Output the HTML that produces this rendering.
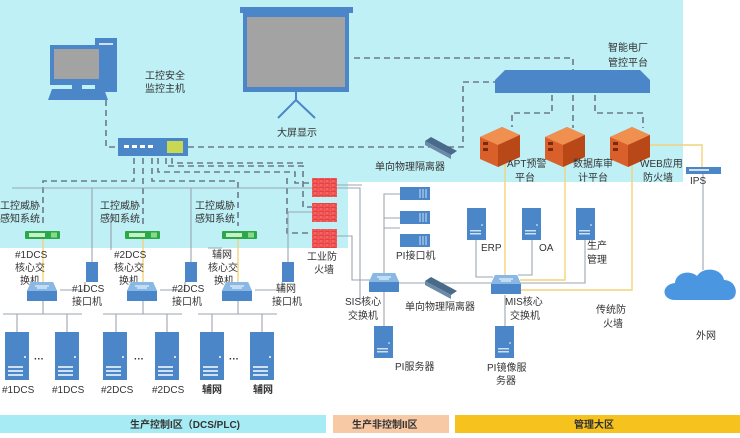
<!DOCTYPE html>
<html><head><meta charset="utf-8"><style>
body{margin:0;width:740px;height:438px;overflow:hidden;background:#fff}
svg{display:block}
text{font-family:"Liberation Sans","Noto Sans CJK SC",sans-serif;font-size:10px;fill:#333}
.d{stroke:#6a7a88;stroke-width:1.6;stroke-dasharray:6 4;fill:none}
.s{stroke:#9aa6b0;stroke-width:1.1;fill:none}
.y{stroke:#f2d27a;stroke-width:1.4;fill:none}
.b{fill:#4a86c8}
</style></head><body>
<svg width="740" height="438" viewBox="0 0 740 438">
<defs>
<pattern id="br" width="6" height="4" patternUnits="userSpaceOnUse"><rect width="6" height="4" fill="#e84040"/><path d="M0 0H6M0 2H6M3 0V2M0 2V4" stroke="#ff9090" stroke-width="0.6"/></pattern>
<g id="srv"><rect x="0" y="0" width="24" height="48" fill="#4a86c8"/><rect x="3" y="34" width="15" height="2" fill="#cfe0f2"/><rect x="3" y="38" width="15" height="2" fill="#cfe0f2"/><rect x="3" y="42" width="15" height="2" fill="#cfe0f2"/><circle cx="20" cy="25" r="1" fill="#fff"/></g>
<g id="tw"><rect x="0" y="0" width="19" height="32" fill="#4a86c8"/><rect x="3" y="22" width="11" height="1.5" fill="#cfe0f2"/><rect x="3" y="25" width="11" height="1.5" fill="#cfe0f2"/><circle cx="15" cy="17" r="0.8" fill="#fff"/></g>
<g id="sw"><path d="M4 0H26L30 9V19H0V9Z" fill="#4a86c8"/><path d="M4 0H26L30 9H0Z" fill="#8ab8e4"/><path d="M8 4H22M10 6H20" stroke="#fff" stroke-width="1"/></g>
<g id="grn"><rect x="0" y="0" width="35" height="8" rx="1" fill="#2aa84a"/><rect x="4" y="2" width="16" height="4" fill="#c8f0c8"/><rect x="26" y="1.5" width="6" height="5" fill="#8ad88a"/></g>
<g id="org"><path d="M0 10L22 0L40 8V30L18 40L0 32Z" fill="#d9602a"/><path d="M0 10L22 0L40 8L18 18Z" fill="#f09050"/><path d="M18 18V40L40 30V8Z" fill="#b84818"/><rect x="3" y="15" width="5" height="3" fill="#7a2a08"/><rect x="3" y="21" width="5" height="3" fill="#7a2a08"/></g>
<g id="rk"><rect width="30" height="13" fill="#4a86c8"/><path d="M20 2V11M23 2V11M26 2V11" stroke="#cfe0f2" stroke-width="1"/></g>
<g id="dio"><path d="M0 4L6 0L32 14L26 18Z" fill="#4a6a8a"/><path d="M0 4L26 18V22L0 8Z" fill="#6a8aa8"/></g>
</defs>
<path d="M0 0H683V182H348V248H0Z" fill="#bff0f6"/>
<rect x="0" y="415" width="326" height="18" fill="#a7ecf4"/>
<rect x="333" y="415" width="116" height="18" fill="#f7c9a4"/>
<rect x="455" y="415" width="285" height="18" fill="#f5c21e"/>
<text x="130" y="428" font-size="11" font-weight="bold">生产控制I区（DCS/PLC)</text>
<text x="352" y="428" font-size="11" font-weight="bold">生产非控制II区</text>
<text x="574" y="428" font-size="11" font-weight="bold">管理大区</text>

<path class="d" d="M354 58H573V72"/>
<path class="d" d="M188 147H463V82H500"/>
<path class="d" d="M106 100V147H118"/>
<path class="d" d="M552 95V113H512V127"/>
<path class="d" d="M573 95V128"/>
<path class="d" d="M595 95V113H643V128"/>
<path class="d" d="M134 158V181H43V225"/>
<path class="d" d="M143 158V226"/>
<path class="d" d="M152 158V181H238V226"/>
<path class="d" d="M158 158V172H295V183H312"/>
<path class="d" d="M166 158V166H303V207H312"/>
<path class="d" d="M172 158V163H304"/>
<path class="d" d="M287 178V233H312"/>
<path class="s" d="M12 188H360V300"/>
<path class="s" d="M92 188V262"/>
<path class="s" d="M191 188V262"/>
<path class="s" d="M111 215V250"/>
<path class="s" d="M208 248H222M111 248V215"/>
<path class="s" d="M288 212V262M288 212H313"/>
<path class="s" d="M337 185H362"/>
<path class="s" d="M337 236H352V280H370"/>
<path class="s" d="M398 283H493"/>
<path class="s" d="M384 283V228H400M384 252V194H400M384 218H400"/>
<path class="s" d="M384 292V326"/>
<path class="s" d="M476 240V277H493"/>
<path class="s" d="M532 240V275H518"/>
<path class="s" d="M585 240V283H520"/>
<path class="s" d="M505 295V326"/>
<path class="s" d="M703 174V270"/>
<g class="s">
<path d="M3 314H82M43 296V314M17 314V332M67 314V332M60 290H85V282"/>
<path d="M103 314H182M143 296V314M116 314V332M167 314V332M160 290H185V282"/>
<path d="M198 314H277M238 296V314M212 314V332M262 314V332M255 290H282V282"/>
</g>
<path class="y" d="M43 238V285M143 238V285M238 238V285" stroke="#e8d070"/>
<path class="y" d="M505 162V290H632V162"/>
<path class="y" d="M565 162V280H520"/>
<path class="y" d="M650 145H702V168"/>

<rect x="95" y="38" width="22" height="54" fill="#4a86c8"/><rect x="99" y="43" width="14" height="2" fill="#cfe0f2"/>
<rect x="50" y="45" width="53" height="40" fill="#4a86c8"/><rect x="54" y="49" width="45" height="30" fill="#a3a3a3"/>
<rect x="72" y="85" width="10" height="4" fill="#4a86c8"/>
<path d="M52 89H104L108 100H48Z" fill="#4a86c8"/>
<text x="145" y="79">工控安全</text><text x="145" y="92">监控主机</text>
<rect x="240" y="7" width="113" height="6" fill="#4a86c8"/>
<rect x="243" y="13" width="106" height="79" fill="#4a86c8"/><rect x="247" y="17" width="98" height="70" fill="#a3a3a3"/>
<path d="M296 92V100L278 118M296 100L315 118" stroke="#4a86c8" stroke-width="2" fill="none"/>
<text x="277" y="136">大屏显示</text>
<rect x="118" y="138" width="70" height="18" fill="#4a86c8"/>
<g fill="#fff"><rect x="124" y="145" width="5" height="3"/><rect x="132" y="145" width="5" height="3"/><rect x="140" y="145" width="5" height="3"/><rect x="148" y="145" width="5" height="3"/></g>
<rect x="167" y="141" width="16" height="12" fill="#c8d850"/>
<path d="M505 70H640L650 80H495Z" fill="#4a86c8"/><rect x="495" y="80" width="155" height="13" fill="#4a86c8"/>
<text x="608" y="51">智能电厂</text><text x="608" y="66">管控平台</text>
<use href="#org" x="480" y="127"/><use href="#org" x="545" y="127"/><use href="#org" x="610" y="127"/>
<text x="507" y="167">APT预警</text><text x="515" y="181">平台</text>
<text x="573" y="167">数据库审</text><text x="578" y="181">计平台</text>
<text x="640" y="167">WEB应用</text><text x="643" y="181">防火墙</text>
<rect x="686" y="167" width="35" height="7" fill="#4a86c8"/><rect x="689" y="169" width="20" height="2" fill="#cfe0f2"/>
<text x="690" y="184" font-size="8">IPS</text>
<use href="#dio" x="425" y="137"/>
<text x="375" y="170">单向物理隔离器</text>
<use href="#dio" x="425" y="277"/>
<text x="405" y="310">单向物理隔离器</text>
<rect x="312" y="178" width="25" height="19" fill="url(#br)"/>
<rect x="312" y="203" width="25" height="19" fill="url(#br)"/>
<rect x="312" y="229" width="25" height="19" fill="url(#br)"/>
<text x="307" y="260">工业防</text><text x="314" y="273">火墙</text>
<text x="0" y="209">工控威胁</text><text x="0" y="222">感知系统</text>
<text x="100" y="209">工控威胁</text><text x="100" y="222">感知系统</text>
<text x="195" y="209">工控威胁</text><text x="195" y="222">感知系统</text>
<use href="#grn" x="25" y="231"/><use href="#grn" x="125" y="231"/><use href="#grn" x="222" y="231"/>
<text x="15" y="258" font-size="9">#1DCS</text><text x="15" y="271">核心交</text><text x="20" y="284">换机</text>
<text x="114" y="258" font-size="9">#2DCS</text><text x="114" y="271">核心交</text><text x="119" y="284">换机</text>
<text x="212" y="258">辅网</text><text x="208" y="271">核心交</text><text x="214" y="284">换机</text>
<use href="#sw" x="27" y="282"/><use href="#sw" x="127" y="282"/><use href="#sw" x="222" y="282"/>
<g><rect x="86" y="262" width="12" height="20" fill="#4a86c8"/><rect x="185" y="262" width="12" height="20" fill="#4a86c8"/><rect x="282" y="262" width="12" height="20" fill="#4a86c8"/></g>
<text x="72" y="292" font-size="9">#1DCS</text><text x="72" y="305">接口机</text>
<text x="172" y="292" font-size="9">#2DCS</text><text x="172" y="305">接口机</text>
<text x="276" y="292">辅网</text><text x="272" y="305">接口机</text>
<use href="#srv" x="5" y="332"/><use href="#srv" x="55" y="332"/>
<use href="#srv" x="103" y="332"/><use href="#srv" x="155" y="332"/>
<use href="#srv" x="200" y="332"/><use href="#srv" x="250" y="332"/>
<text x="34" y="362" font-weight="bold">···</text><text x="134" y="362" font-weight="bold">···</text><text x="229" y="362" font-weight="bold">···</text>
<text x="2" y="393" font-size="9">#1DCS</text><text x="52" y="393" font-size="9">#1DCS</text>
<text x="101" y="393" font-size="9">#2DCS</text><text x="152" y="393" font-size="9">#2DCS</text>
<text x="202" y="393" font-weight="bold">辅网</text><text x="253" y="393" font-weight="bold">辅网</text>
<use href="#rk" x="400" y="187"/><use href="#rk" x="400" y="211"/><use href="#rk" x="400" y="234"/>
<text x="396" y="259" font-size="9">PI接口机</text>
<use href="#sw" x="369" y="273"/>
<text x="345" y="305" font-size="9">SIS核心</text><text x="348" y="319">交换机</text>
<use href="#tw" x="374" y="326"/>
<text x="395" y="370" font-size="9">PI服务器</text>
<use href="#sw" x="491" y="275"/>
<text x="505" y="305" font-size="9">MIS核心</text><text x="510" y="319">交换机</text>
<use href="#tw" x="495" y="326"/>
<text x="487" y="371" font-size="9">PI镜像服</text><text x="496" y="384">务器</text>
<use href="#tw" x="467" y="208"/><use href="#tw" x="522" y="208"/><use href="#tw" x="576" y="208"/>
<text x="481" y="251" font-size="9">ERP</text><text x="539" y="251" font-size="9">OA</text>
<text x="587" y="249">生产</text><text x="587" y="263">管理</text>
<text x="596" y="313">传统防</text><text x="603" y="327">火墙</text>
<path d="M675 300C662 300 660 285 675 283C676 272 690 270 697 276C703 266 722 268 724 280C738 280 740 300 728 300Z" fill="#4a96e0"/>
<text x="696" y="339">外网</text>
</svg>
</body></html>
